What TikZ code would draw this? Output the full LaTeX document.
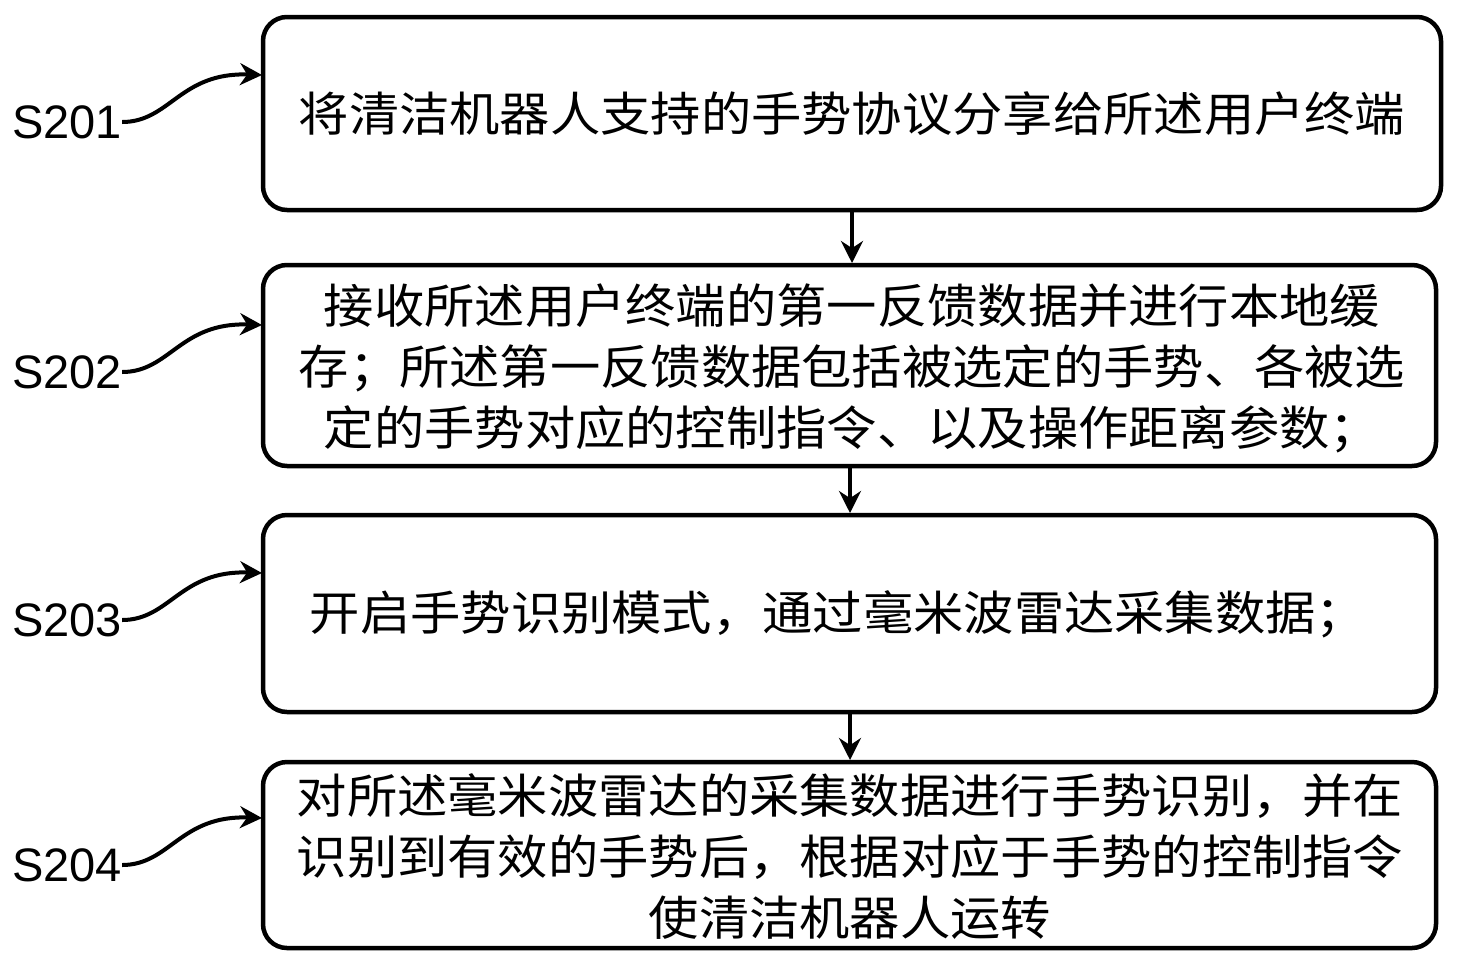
\documentclass[tikz,border=0pt]{standalone}
\usepackage{fontspec}
\newfontfamily\cjk{Noto Sans CJK SC}
\setmainfont{Liberation Sans}
\usetikzlibrary{arrows.meta}
\begin{document}
\begin{tikzpicture}[x=1pt,y=-1pt,
  box/.style={draw,line width=4.5pt,rounded corners=24pt},
  txt/.style={align=center,font=\cjk\fontsize{47}{61}\selectfont,inner sep=0,xscale=1.07},
  lab/.style={font=\fontsize{47}{52}\selectfont,anchor=west,inner sep=0},
  arr/.style={line width=4pt,-{Stealth[length=22pt,width=22pt]}}]
\useasboundingbox (0,0) rectangle (1459,967);
\draw[box] (263,17) rectangle (1441,210);
\draw[box] (263,265) rectangle (1436,466);
\draw[box] (263,515) rectangle (1436,712);
\draw[box] (263,762) rectangle (1436,948);
\node[txt] (t1) at (852,114) {将清洁机器人支持的手势协议分享给所述用户终端};
\node[txt] (t2) at (852,368) {接收所述用户终端的第一反馈数据并进行本地缓\\存；所述第一反馈数据包括被选定的手势、各被选\\定的手势对应的控制指令、以及操作距离参数；};
\node[txt] (t3) at (838,614) {开启手势识别模式，通过毫米波雷达采集数据；};
\node[txt] (t4) at (850,857) {对所述毫米波雷达的采集数据进行手势识别，并在\\识别到有效的手势后，根据对应于手势的控制指令\\使清洁机器人运转};
\coordinate (b1) at (852,212); \coordinate (c2) at (852,263);
\coordinate (b2) at (850,468); \coordinate (c3) at (850,513);
\coordinate (b3) at (850,714); \coordinate (c4) at (850,760);
\draw[arr] (b1)--(c2); \draw[arr] (b2)--(c3); \draw[arr] (b3)--(c4);
\foreach \n/\y in {1/122,2/372,3/620,4/865}{
  \node[lab] (s\n) at (12,\y) {S20\n};
  \coordinate (e\n) at (262,\y-47);
  \draw[arr] (s\n.east) .. controls (170,\y) and (180,\y-50) .. (e\n);
}
\end{tikzpicture}
\end{document}
